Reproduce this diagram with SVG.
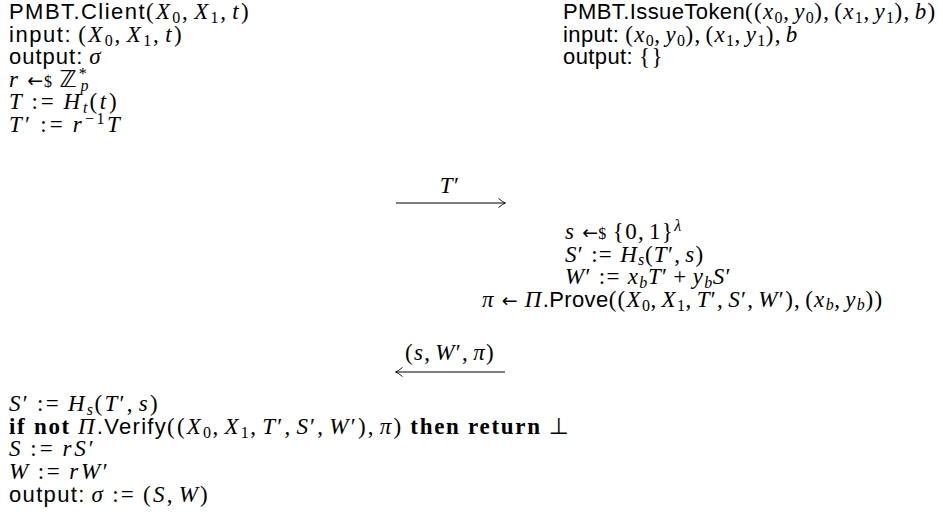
<svg xmlns="http://www.w3.org/2000/svg" width="943" height="529" viewBox="0 0 943 529">
<style>
text { font-family: "Liberation Serif", "DejaVu Serif", serif; font-size: 23px; letter-spacing: 1.3px; fill: #000; }
.sf { font-family: "Liberation Sans", "DejaVu Sans", sans-serif; font-style: normal; font-size: 22px; letter-spacing: 0.4px; }
.m { font-family: "Liberation Serif", "DejaVu Serif", serif; font-style: italic; }
.r { font-family: "Liberation Serif", "DejaVu Serif", serif; font-style: normal; }
.b { font-family: "Liberation Serif", "DejaVu Serif", serif; font-weight: bold; font-style: normal; letter-spacing: 0.8px; }
.s { font-size: 16px; letter-spacing: 0.6px; }
.sym { font-family: "DejaVu Sans", sans-serif; font-style: normal; }
.ar { font-family: "DejaVu Sans", sans-serif; font-style: normal; font-size: 19px; letter-spacing: 0; }
.conn { stroke: #000; stroke-width: 1; fill: none; }
</style>
<defs>
<marker id="ah" markerUnits="userSpaceOnUse" viewBox="-8 -5 10 10" refX="0" refY="0" markerWidth="10" markerHeight="10" orient="auto-start-reverse">
<path d="M -6.5,-4.5 Q -2,-0.8 0.5,0 Q -2,0.8 -6.5,4.5" fill="none" stroke="#000" stroke-width="0.9"/>
</marker>
</defs>

<g id="client">
<text x="9" y="19" textLength="241" lengthAdjust="spacing"><tspan class="sf">PMBT.Client</tspan><tspan class="r">(</tspan><tspan class="m">X</tspan><tspan class="r s" dy="4">0</tspan><tspan class="r" dy="-4">,</tspan><tspan class="m" dx="4">X</tspan><tspan class="r s" dy="4">1</tspan><tspan class="r" dy="-4">,</tspan><tspan class="m" dx="4">t</tspan><tspan class="r">)</tspan></text>
<text x="9" y="41.5" textLength="174" lengthAdjust="spacing"><tspan class="sf">input:</tspan><tspan class="r" dx="6">(</tspan><tspan class="m">X</tspan><tspan class="r s" dy="4">0</tspan><tspan class="r" dy="-4">,</tspan><tspan class="m" dx="4">X</tspan><tspan class="r s" dy="4">1</tspan><tspan class="r" dy="-4">,</tspan><tspan class="m" dx="4">t</tspan><tspan class="r">)</tspan></text>
<text x="9" y="64" textLength="93" lengthAdjust="spacing"><tspan class="sf">output:</tspan><tspan class="m" dx="6">σ</tspan></text>
<text x="9" y="86.5" textLength="80" lengthAdjust="spacing"><tspan class="m">r</tspan><tspan class="ar" dx="7">←</tspan><tspan class="r s">$</tspan><tspan class="sym" dx="6">ℤ</tspan><tspan class="r s" dy="-8">*</tspan><tspan class="m s" dx="-8" dy="12">p</tspan></text>
<text x="9" y="109" textLength="109" lengthAdjust="spacing"><tspan class="m">T</tspan><tspan class="r" dx="7">:=</tspan><tspan class="m" dx="7">H</tspan><tspan class="m s" dy="3.5">t</tspan><tspan class="r" dy="-3.5">(</tspan><tspan class="m">t</tspan><tspan class="r">)</tspan></text>
<text x="9" y="131.5" textLength="112" lengthAdjust="spacing"><tspan class="m">T</tspan><tspan class="r">′</tspan><tspan class="r" dx="7">:=</tspan><tspan class="m" dx="7">r</tspan><tspan class="r s" dy="-8">−1</tspan><tspan class="m" dy="8">T</tspan></text>

<text x="9" y="411" textLength="150" lengthAdjust="spacing"><tspan class="m">S</tspan><tspan class="r">′</tspan><tspan class="r" dx="7">:=</tspan><tspan class="m" dx="7">H</tspan><tspan class="m s" dy="3.5">s</tspan><tspan class="r" dy="-3.5">(</tspan><tspan class="m">T</tspan><tspan class="r">′,</tspan><tspan class="m" dx="4">s</tspan><tspan class="r">)</tspan></text>
<text x="9" y="434" textLength="561" lengthAdjust="spacing"><tspan class="b">if not</tspan><tspan class="m" dx="7">Π</tspan><tspan class="sf">.Verify</tspan><tspan class="r">((</tspan><tspan class="m">X</tspan><tspan class="r s" dy="4">0</tspan><tspan class="r" dy="-4">,</tspan><tspan class="m" dx="4">X</tspan><tspan class="r s" dy="4">1</tspan><tspan class="r" dy="-4">,</tspan><tspan class="m" dx="4">T</tspan><tspan class="r">′,</tspan><tspan class="m" dx="4">S</tspan><tspan class="r">′,</tspan><tspan class="m" dx="4">W</tspan><tspan class="r">′),</tspan><tspan class="m" dx="4">π</tspan><tspan class="r">)</tspan><tspan class="b" dx="7">then return</tspan><tspan class="sym" dx="7">⊥</tspan></text>
<text x="9" y="456" textLength="86" lengthAdjust="spacing"><tspan class="m">S</tspan><tspan class="r" dx="7">:=</tspan><tspan class="m" dx="7">rS</tspan><tspan class="r">′</tspan></text>
<text x="9" y="479" textLength="100" lengthAdjust="spacing"><tspan class="m">W</tspan><tspan class="r" dx="7">:=</tspan><tspan class="m" dx="7">rW</tspan><tspan class="r">′</tspan></text>
<text x="9" y="502" textLength="200" lengthAdjust="spacing"><tspan class="sf">output:</tspan><tspan class="m" dx="6">σ</tspan><tspan class="r" dx="7">:=</tspan><tspan class="r" dx="7">(</tspan><tspan class="m">S</tspan><tspan class="r">,</tspan><tspan class="m" dx="4">W</tspan><tspan class="r">)</tspan></text>
</g>

<g id="issuer">
<text x="563" y="19"><tspan class="sf">PMBT.IssueToken</tspan><tspan class="r">((</tspan><tspan class="m">x</tspan><tspan class="r s" dy="4">0</tspan><tspan class="r" dy="-4">,</tspan><tspan class="m" dx="4">y</tspan><tspan class="r s" dy="4">0</tspan><tspan class="r" dy="-4">),</tspan><tspan class="r" dx="4">(</tspan><tspan class="m">x</tspan><tspan class="r s" dy="4">1</tspan><tspan class="r" dy="-4">,</tspan><tspan class="m" dx="4">y</tspan><tspan class="r s" dy="4">1</tspan><tspan class="r" dy="-4">),</tspan><tspan class="m" dx="4">b</tspan><tspan class="r">)</tspan></text>
<text x="563" y="41.5"><tspan class="sf">input:</tspan><tspan class="r" dx="6">(</tspan><tspan class="m">x</tspan><tspan class="r s" dy="4">0</tspan><tspan class="r" dy="-4">,</tspan><tspan class="m" dx="4">y</tspan><tspan class="r s" dy="4">0</tspan><tspan class="r" dy="-4">),</tspan><tspan class="r" dx="4">(</tspan><tspan class="m">x</tspan><tspan class="r s" dy="4">1</tspan><tspan class="r" dy="-4">,</tspan><tspan class="m" dx="4">y</tspan><tspan class="r s" dy="4">1</tspan><tspan class="r" dy="-4">),</tspan><tspan class="m" dx="4">b</tspan></text>
<text x="563" y="64"><tspan class="sf">output:</tspan><tspan class="r" dx="6">{}</tspan></text>

<text x="565" y="239"><tspan class="m">s</tspan><tspan class="ar" dx="7">←</tspan><tspan class="r s">$</tspan><tspan class="r" dx="6">{0,</tspan><tspan class="r" dx="4">1}</tspan><tspan class="m s" dy="-8">λ</tspan></text>
<text x="565" y="261.5"><tspan class="m">S</tspan><tspan class="r">′</tspan><tspan class="r" dx="7">:=</tspan><tspan class="m" dx="7">H</tspan><tspan class="m s" dy="3.5">s</tspan><tspan class="r" dy="-3.5">(</tspan><tspan class="m">T</tspan><tspan class="r">′,</tspan><tspan class="m" dx="4">s</tspan><tspan class="r">)</tspan></text>
<text x="565" y="284"><tspan class="m">W</tspan><tspan class="r">′</tspan><tspan class="r" dx="7">:=</tspan><tspan class="m" dx="7">x</tspan><tspan class="m s" dy="3.5">b</tspan><tspan class="m" dy="-3.5">T</tspan><tspan class="r">′</tspan><tspan class="r" dx="5">+</tspan><tspan class="m" dx="5">y</tspan><tspan class="m s" dy="3.5">b</tspan><tspan class="m" dy="-3.5">S</tspan><tspan class="r">′</tspan></text>
<text x="482" y="306.5"><tspan class="m">π</tspan><tspan class="ar" dx="7">←</tspan><tspan class="m" dx="7">Π</tspan><tspan class="sf">.Prove</tspan><tspan class="r">((</tspan><tspan class="m">X</tspan><tspan class="r s" dy="4">0</tspan><tspan class="r" dy="-4">,</tspan><tspan class="m" dx="4">X</tspan><tspan class="r s" dy="4">1</tspan><tspan class="r" dy="-4">,</tspan><tspan class="m" dx="4">T</tspan><tspan class="r">′,</tspan><tspan class="m" dx="4">S</tspan><tspan class="r">′,</tspan><tspan class="m" dx="4">W</tspan><tspan class="r">′),</tspan><tspan class="r" dx="4">(</tspan><tspan class="m">x</tspan><tspan class="m s" dy="3.5">b</tspan><tspan class="r" dy="-3.5">,</tspan><tspan class="m" dx="4">y</tspan><tspan class="m s" dy="3.5">b</tspan><tspan class="r" dy="-3.5">))</tspan></text>
</g>

<g id="connectors">
<line class="conn" x1="396" y1="203" x2="505" y2="203" marker-end="url(#ah)"/>
<text x="450" y="193" text-anchor="middle"><tspan class="m">T</tspan><tspan class="r">′</tspan></text>
<line class="conn" x1="505" y1="372" x2="396" y2="372" marker-end="url(#ah)"/>
<text x="450" y="360" text-anchor="middle"><tspan class="r">(</tspan><tspan class="m">s</tspan><tspan class="r">,</tspan><tspan class="m" dx="4">W</tspan><tspan class="r">′,</tspan><tspan class="m" dx="4">π</tspan><tspan class="r">)</tspan></text>
</g>
</svg>
